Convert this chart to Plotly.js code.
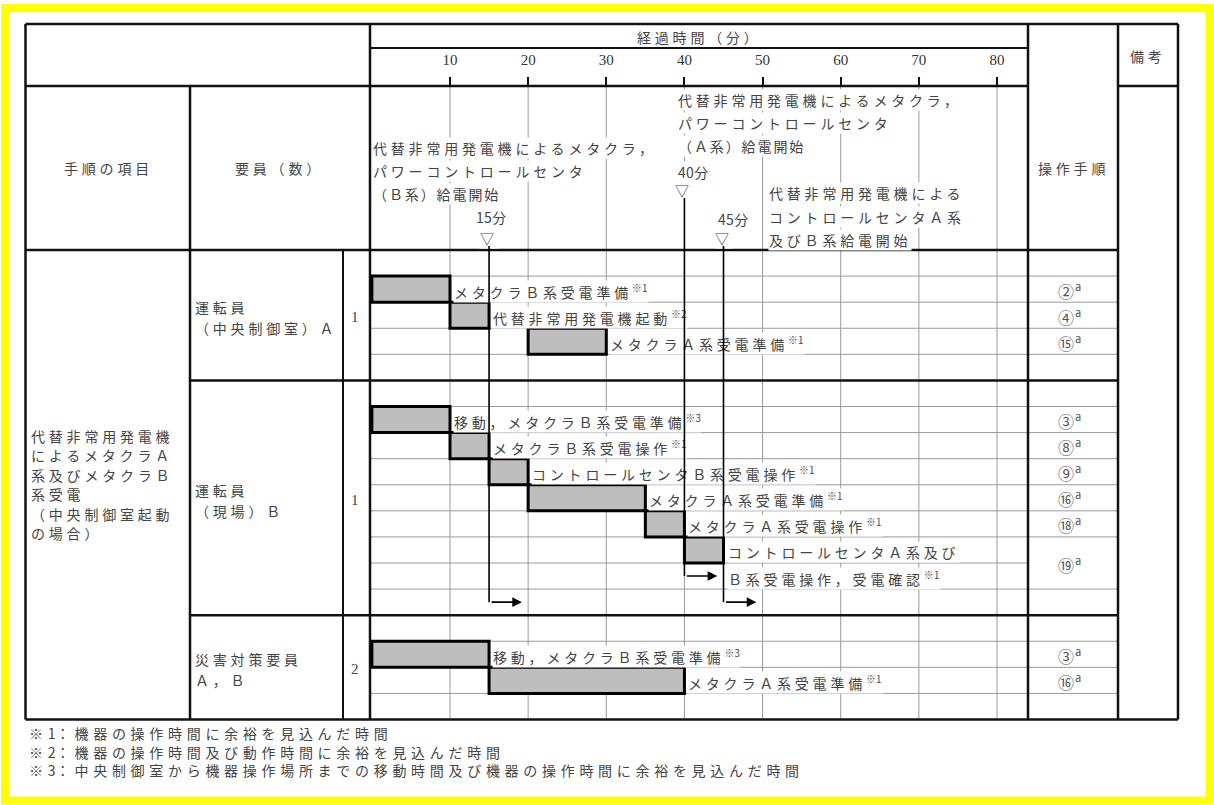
<!DOCTYPE html>
<html><head><meta charset="utf-8">
<script src="https://cdn.plot.ly/plotly-3.0.1.min.js"></script>
<style>
html,body{margin:0;padding:0;background:#fff;}
#chart{width:1214px;height:805px;}
.annotation-text{letter-spacing:3.8px;}
</style></head><body><div id="chart"></div>
<script>
// ---------------- data ----------------
const tickMinutes = [10, 20, 30, 40, 50, 60, 70, 80];
const axisTitle = '経過時間（分）';
const headItem = '手順の項目';
const headCrew = '要員（数）';
const headStep = '操作手順';
const headNote = '備考';
const procItem = ['代替非常用発電機', 'によるメタクラＡ', '系及びメタクラＢ', '系受電', '（中央制御室起動', 'の場合）'];
const crewNames = [['運転員', '（中央制御室）Ａ'], ['運転員', '（現場）Ｂ'], ['災害対策要員', 'Ａ，Ｂ']];
const crewCounts = ['1', '1', '2'];
const groupRows = [5, 9, 4];
const taskLabel = ['メタクラＢ系受電準備', '代替非常用発電機起動', 'メタクラＡ系受電準備',
  '移動，メタクラＢ系受電準備', 'メタクラＢ系受電操作', 'コントロールセンタＢ系受電操作',
  'メタクラＡ系受電準備', 'メタクラＡ系受電操作', 'コントロールセンタＡ系及び<br>Ｂ系受電操作，受電確認',
  '移動，メタクラＢ系受電準備', 'メタクラＡ系受電準備'];
const taskNote = ['※1', '※2', '※1', '※3', '※1', '※1', '※1', '※1', '※1', '※3', '※1'];
const taskStart = [0, 10, 20, 0, 10, 15, 20, 35, 40, 0, 15];
const taskEnd = [10, 15, 30, 10, 15, 20, 35, 40, 45, 15, 40];
const taskRow = [1, 2, 3, 6, 7, 8, 9, 10, 11, 15, 16];
const procStep = ['②', '④', '⑮', '③', '⑧', '⑨', '⑯', '⑱', '⑲', '③', '⑯'];
const milestoneMin = [15, 40, 45];
const milestoneLabel = ['15分', '40分', '45分'];
const milestoneText = [
  ['代替非常用発電機によるメタクラ，', 'パワーコントロールセンタ', '（Ｂ系）給電開始'],
  ['代替非常用発電機によるメタクラ，', 'パワーコントロールセンタ', '（Ａ系）給電開始'],
  ['代替非常用発電機による', 'コントロールセンタＡ系', '及びＢ系給電開始']];
const milestoneArrowRow = [13, 12, 13];
const arrowLenMin = 4.2;
const footnotes = ['※1：機器の操作時間に余裕を見込んだ時間',
  '※2：機器の操作時間及び動作時間に余裕を見込んだ時間',
  '※3：中央制御室から機器操作場所までの移動時間及び機器の操作時間に余裕を見込んだ時間'];

// ---------------- layout geometry ----------------
const W = 1214, H = 805;
const G = {left: 25.5, right: 1178, top: 24, bottom: 719.5, sub: 48, hdr: 86, body: 250,
  cItem: 190, cCnt: 343, cL: 370, cR: 1028, cStep: 1118};
const nRows = groupRows.reduce((a, b) => a + b, 0);
const rowH = (G.bottom - G.body) / nRows;
const rowY = r => G.body + (r + 0.5) * rowH;
const pxPerMin = (997 - 450) / 70;
const xRange = [10 - (450 - G.cL) / pxPerMin, 10 + (G.cR - 450) / pxPerMin];
const PX = p => p / W, PY = p => 1 - p / H;
const FONT = '"Noto Sans CJK JP", "Noto Sans CJK SC", sans-serif';
const SERIF = '"Liberation Serif", "DejaVu Serif", serif';
const TXT = '#444', GRAY = '#9a9a9a', K = '#111';
const tight = s => s.replace(/([0-9]+)/g, '<span style="letter-spacing:0.3px">$1</span>');
const spaced = (s, ls) => '<span style="letter-spacing:' + ls + 'px">' + s + '</span>';

// ---------------- shapes ----------------
const shapes = [];
function line(x0, y0, x1, y1, w, c) {
  shapes.push({type: 'line', xref: 'paper', yref: 'paper', x0: PX(x0), x1: PX(x1), y0: PY(y0), y1: PY(y1),
    line: {color: c, width: w}, layer: 'below'});
}
shapes.push({type: 'rect', xref: 'paper', yref: 'paper', x0: PX(5), x1: PX(1209.5), y0: PY(8), y1: PY(800.5),
  line: {color: '#ffff00', width: 8}, layer: 'below'});
tickMinutes.forEach(m => shapes.push({type: 'line', xref: 'x', yref: 'paper', x0: m, x1: m,
  y0: PY(G.hdr), y1: PY(G.bottom), line: {color: GRAY, width: 1}, layer: 'below'}));
const groupBounds = [];
groupRows.reduce((acc, n) => { groupBounds.push(acc + n); return acc + n; }, 0);
const mergedBounds = [];
taskLabel.forEach((l, i) => { const n = l.split('<br>').length; for (let j = 1; j < n; j++) mergedBounds.push(taskRow[i] + j); });
for (let k = 1; k < nRows; k++) {
  if (groupBounds.includes(k)) continue;
  const y = G.body + k * rowH;
  line(G.cL, y, mergedBounds.includes(k) ? G.cR : G.cStep, y, 1, GRAY);
}
line(G.left, G.top, G.right, G.top, 2.5, K);
line(G.left, G.bottom, G.right, G.bottom, 2.5, K);
line(G.left, G.top, G.left, G.bottom, 2.5, K);
line(G.right, G.top, G.right, G.bottom, 2.5, K);
line(G.cL, G.sub, G.cR, G.sub, 2, K);
line(G.left, G.hdr, G.cR, G.hdr, 2.5, K);
line(G.cStep, G.hdr, G.right, G.hdr, 2.5, K);
line(G.left, G.body, G.cStep, G.body, 2.5, K);
groupBounds.slice(0, -1).forEach(k => { const y = G.body + k * rowH; line(G.cItem, y, G.cStep, y, 2.5, K); });
line(G.cItem, G.hdr, G.cItem, G.bottom, 2.5, K);
line(G.cCnt, G.body, G.cCnt, G.bottom, 2, K);
line(G.cL, G.top, G.cL, G.bottom, 2.5, K);
line(G.cR, G.top, G.cR, G.bottom, 2.5, K);
line(G.cStep, G.top, G.cStep, G.bottom, 2.5, K);

// ---------------- annotations ----------------
const ann = [];
function txt(text, x, y, o) {
  ann.push(Object.assign({text: text, x: PX(x), y: PY(y), xref: 'paper', yref: 'paper', xanchor: 'center', yanchor: 'middle',
    showarrow: false, borderpad: 0, font: {family: FONT, size: 14, color: TXT}}, o || {}));
}
const L = {xanchor: 'left', align: 'left'};
txt(axisTitle, 699, 37);
txt(headItem, 108, 168);
txt(headCrew, 279, 168);
txt(headStep, 1073, 168);
txt(headNote, 1148, 56);
procItem.forEach((s, i) => txt(s, 30, 436 + 19.4 * i, L));
let acc = 0;
groupRows.forEach((n, g) => {
  const yc = G.body + (acc + n / 2) * rowH;
  txt(crewNames[g][0], 194, yc - 8, L);
  txt(crewNames[g][1], 194, yc + 13, L);
  txt(crewCounts[g], (G.cCnt + G.cL) / 2, yc + 2, {font: {family: SERIF, size: 15, color: TXT}});
  acc += n;
});
// milestone header blocks
const msBlock = [{x: 372, y: 148}, {x: 677, y: 100}, {x: 768, y: 193.5}];
const msLab = [{y: 217, a: 'center'}, {x: 677, y: 171.5, a: 'left'}, {x: 753, y: 219, a: 'right'}];
const msTri = [238, 190, 238];
milestoneMin.forEach((m, i) => {
  milestoneText[i].forEach((s, j) => {
    const t = s.charAt(0) === '（' ? spaced(s, 1.9) : s;
    txt(t, msBlock[i].x, msBlock[i].y + j * 23, Object.assign({bgcolor: '#fff'}, L));
  });
  const lab = msLab[i];
  const lt = tight(milestoneLabel[i]);
  if (lab.a === 'center') ann.push({text: lt, x: m, xref: 'x', xshift: 4, y: PY(lab.y), yref: 'paper', showarrow: false,
    xanchor: 'center', yanchor: 'middle', bgcolor: '#fff', borderpad: 0, font: {family: FONT, size: 14, color: TXT}});
  else txt(lt, lab.x, lab.y, {xanchor: lab.a, align: lab.a, bgcolor: '#fff'});
  ann.push({text: '▽', x: m, xref: 'x', y: PY(msTri[i]), yref: 'paper', showarrow: false, xanchor: 'center', yanchor: 'middle',
    bgcolor: '#fff', borderpad: 0, font: {family: FONT, size: 14, color: TXT}});
});
// task labels + procedure steps
taskLabel.forEach((lab, i) => {
  const parts = lab.split('<br>');
  parts.forEach((p, j) => {
    const t = p + (j === parts.length - 1 ? '<sup>' + spaced(taskNote[i], 0.3) + '</sup>' : '');
    ann.push({text: t, x: taskEnd[i], xref: 'x', y: rowY(taskRow[i] + j), yref: 'y', xanchor: 'left', align: 'left',
      yanchor: 'middle', xshift: 3, yshift: -2, showarrow: false, bgcolor: '#fff', borderpad: 0,
      font: {family: FONT, size: 14, color: TXT}});
  });
  const yc = rowY(taskRow[i] + (parts.length - 1) / 2);
  txt(spaced(procStep[i], 1) + '<sup>a</sup>', 1071, yc + 1, {font: {family: FONT, size: 16, color: '#555'}});
});
// footnotes
footnotes.forEach((s, i) => txt(spaced(tight(s), 4.7), 28, 733 + 18.5 * i, Object.assign({font: {family: FONT, size: 14, color: TXT}}, L)));
// milestone lines and arrows (drawn last, above labels)
const msTop = [245, 197, 245];
milestoneMin.forEach((m, i) => {
  const ya = rowY(milestoneArrowRow[i]);
  ann.push({text: ' ', x: m, y: ya, xref: 'x', yref: 'y', ax: m, ay: msTop[i], axref: 'x', ayref: 'y',
    showarrow: true, arrowhead: 0, arrowwidth: 1.6, arrowcolor: '#000', standoff: 0, startstandoff: 0,
    borderpad: 0, font: {size: 1}});
  ann.push({text: ' ', x: m + arrowLenMin, y: ya, xref: 'x', yref: 'y', ax: m, ay: ya, axref: 'x', ayref: 'y',
    showarrow: true, arrowhead: 2, arrowsize: 1.2, arrowwidth: 1.6, arrowcolor: '#000', standoff: 0, startstandoff: 0,
    borderpad: 0, font: {size: 1}});
});

// ---------------- traces ----------------
const bars = {
  type: 'bar', orientation: 'h', xaxis: 'x', yaxis: 'y',
  y: taskRow.map(rowY), base: taskStart, x: taskEnd.map((e, i) => e - taskStart[i]), width: rowH,
  marker: {color: '#bebebe', line: {color: '#000', width: 3}}, hoverinfo: 'skip', showlegend: false
};

const layout = {
  width: W, height: H, margin: {l: 0, r: 0, t: 0, b: 0}, paper_bgcolor: '#fff', plot_bgcolor: 'rgba(0,0,0,0)',
  showlegend: false, hovermode: false, dragmode: false,
  xaxis: {domain: [G.cL / W, G.cR / W], range: xRange, anchor: 'free', position: PY(G.hdr), side: 'top',
    tickvals: tickMinutes, ticktext: tickMinutes.map(String), ticks: 'outside', ticklen: 9, tickwidth: 2, tickcolor: K,
    ticklabelstandoff: 6, showgrid: false, zeroline: false, showline: false, fixedrange: true,
    tickfont: {family: SERIF, size: 15, color: '#333'}},
  yaxis: {domain: [0, 1], range: [H, 0], visible: false, fixedrange: true},
  shapes: shapes, annotations: ann
};
Plotly.newPlot('chart', [bars], layout, {staticPlot: true, displayModeBar: false});
</script></body></html>
